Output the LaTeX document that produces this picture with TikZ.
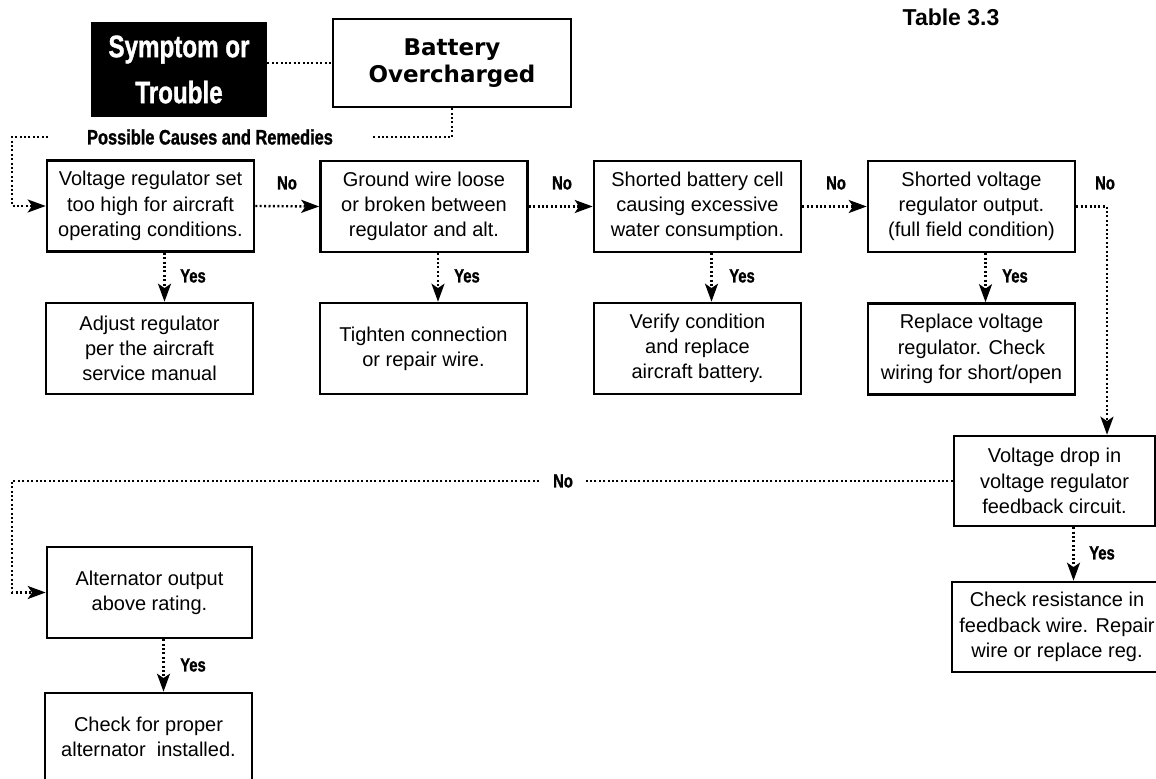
\documentclass[tikz,border=0pt]{standalone}
\usepackage{fontspec}
\setmainfont{Liberation Sans}
\newfontfamily\condfont{Liberation Sans}[FakeStretch=0.78,FakeBold=1.2]
\newfontfamily\widefont{DejaVu Sans}
\usetikzlibrary{arrows.meta,calc}
\begin{document}
\begin{tikzpicture}[x=0.5pt,y=-0.5pt,
  box/.style={draw,line width=1.3pt,minimum width=103.5pt,minimum height=45.5pt,
    align=center,inner sep=1pt,font=\fontsize{10}{12.6}\selectfont},
  dotline/.style={line width=1.2pt,dash pattern=on 1pt off 1.2pt},
  flow/.style={dotline,-{Stealth[length=9pt,width=6.5pt,inset=2.2pt]}},
  lbl/.style={font=\condfont\bfseries\fontsize{9.5}{11}\selectfont,inner sep=1pt},
]
\useasboundingbox (0,0) rectangle (1156,779);

% header
\node[font=\bfseries\fontsize{11.5}{13}\selectfont,inner sep=0] (tab) at (951,17) {Table 3.3};
\node[fill=black,text=white,minimum width=88pt,minimum height=47.5pt,inner sep=0,align=center,
  font=\condfont\bfseries\fontsize{15.5}{23}\selectfont] (sym) at (179,69.5) {Symptom or\\Trouble};
\node[draw,line width=1.3pt,minimum width=119pt,minimum height=44pt,inner sep=0,align=center,
  font=\widefont\bfseries\fontsize{11.5}{13.5}\selectfont] (bat) at (452,63) {Battery\\Overcharged};
\node[font=\condfont\bfseries\fontsize{10.5}{12}\selectfont,inner sep=0] (pcr) at (210,137) {Possible Causes and Remedies};
\coordinate (pl) at (48,137);
\coordinate (pr) at (372,137);

% row 1
\node[box] (b1) at (150.5,206) {Voltage regulator set\\too high for aircraft\\operating conditions.};
\node[box] (b2) at (424,206.5) {Ground wire loose\\or broken between\\regulator and alt.};
\node[box] (b3) at (697.5,206.5) {Shorted battery cell\\causing excessive\\water consumption.};
\node[box] (b4) at (971.5,206.5) {Shorted voltage\\regulator output.\\(full field condition)};
% row 2
\node[box] (r1) at (149.5,348.5) {Adjust regulator\\per the aircraft\\service manual};
\node[box] (r2) at (423.5,348.5) {Tighten connection\\or repair wire.};
\node[box] (r3) at (697.5,348.5) {Verify condition\\and replace\\aircraft battery.};
\node[box] (r4) at (971.5,349) {Replace voltage\\regulator. Check\\wiring for short/open};
% right column
\node[box,minimum width=100.5pt,minimum height=45pt] (vd) at (1054.5,481) {Voltage drop in\\voltage regulator\\feedback circuit.};
\node[box,minimum width=105pt,minimum height=45pt] (cr) at (1057,627) {Check resistance in\\feedback wire. Repair\\wire or replace reg.};
% bottom left
\node[box,minimum width=102.5pt,minimum height=45.5pt] (al) at (149.5,592.5) {Alternator output\\above rating.};
\node[box,minimum width=103.5pt,minimum height=44pt] (ca) at (148.5,737) {Check for proper\\alternator~~installed.};

% connectors
\draw[dotline] (sym.east |- bat.west) -- (bat.west);
\draw[dotline] (bat.south) |- (pr);
\draw[flow] (pl) -- ++(-36,0) |- (b1.west);

\draw[flow] (b1.east) -- (b2.west);
\draw[flow] (b2.east) -- (b3.west);
\draw[flow] (b3.east) -- (b4.west);
\draw[flow] (b4.east) -| ([xshift=26.25pt]vd.north);

\draw[flow] ([xshift=7pt]b1.south) -- ([xshift=7pt]b1.south |- r1.north);
\draw[flow] ([xshift=7pt]b2.south) -- ([xshift=7pt]b2.south |- r2.north);
\draw[flow] ([xshift=7pt]b3.south) -- ([xshift=7pt]b3.south |- r3.north);
\draw[flow] ([xshift=7pt]b4.south) -- ([xshift=7pt]b4.south |- r4.north);
\draw[flow] ([xshift=9.5pt]vd.south) -- ([xshift=9.5pt]vd.south |- cr.north);
\draw[flow] ([xshift=7pt]al.south) -- ([xshift=7pt]al.south |- ca.north);

\coordinate (lc) at (12,481);
\draw[flow] (vd.west) -- (lc) |- (al.west);

% labels
\node[lbl] (n1) at (287,183) {No};
\node[lbl] (n2) at (562,183) {No};
\node[lbl] (n3) at (836,183) {No};
\node[lbl] (n4) at (1105,183) {No};
\node[lbl,fill=white,inner xsep=6pt] (n5) at (563,481) {No};
\node[lbl] (y1) at (193,276) {Yes};
\node[lbl] (y2) at (467,276) {Yes};
\node[lbl] (y3) at (742,276) {Yes};
\node[lbl] (y4) at (1015,276) {Yes};
\node[lbl] (y5) at (1102,553) {Yes};
\node[lbl] (y6) at (193,665) {Yes};
\end{tikzpicture}
\end{document}
